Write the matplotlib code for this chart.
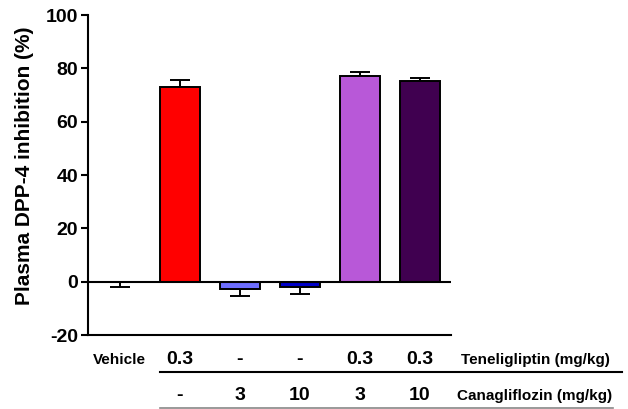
import matplotlib
matplotlib.use("Agg")
import matplotlib.pyplot as plt
from matplotlib.lines import Line2D

plt.rcParams['font.family'] = ['Liberation Sans', 'DejaVu Sans']
plt.rcParams['font.weight'] = 'bold'

groups = ["Vehicle", "Tene 0.3", "Cana 3", "Cana 10", "Tene+Cana 3", "Tene+Cana 10"]
means = [-0.2, 73.0, -2.9, -2.1, 77.3, 75.4]
sems = [1.7, 2.5, 2.6, 2.6, 1.4, 0.9]
colors = ["#FFFFFF", "#FF0000", "#6E6EFF", "#0000C8", "#B858D8", "#400050"]
tene_labels = ["Vehicle", "0.3", "-", "-", "0.3", "0.3"]
cana_labels = ["", "-", "3", "10", "3", "10"]
row_titles = ["Teneligliptin (mg/kg)", "Canagliflozin (mg/kg)"]
yticks = [-20, 0, 20, 40, 60, 80, 100]

fig = plt.figure(figsize=(6.28, 4.09), dpi=100)
ax = fig.add_axes([88/628, 1-335/409, (451-88)/628, (335-15)/409])

x = list(range(len(groups)))
for i, (m, s, c) in enumerate(zip(means, sems, colors)):
    if i > 0:
        ax.bar(i, m, width=0.667, color=c, edgecolor="black", linewidth=1.4, zorder=2)
    lo = s if m < 0 else 0
    hi = s if m >= 0 else 0
    ax.errorbar(i, m, yerr=[[lo], [hi]], fmt="none", ecolor="black",
                elinewidth=1.4, capsize=7.5, capthick=1.4, zorder=1)

ax.axhline(0, color="black", linewidth=1.5, zorder=3)
ax.set_xlim(-0.53, 5.52)
ax.set_ylim(-20, 100)
ax.set_yticks(yticks)
ax.set_yticklabels([str(t) for t in yticks], fontsize=14, fontweight="bold")
ax.set_xticks([])
for sp in ["top", "right"]:
    ax.spines[sp].set_visible(False)
ax.spines["left"].set_linewidth(1.5)
ax.spines["bottom"].set_linewidth(1.5)
ax.tick_params(axis="y", direction="out", length=5, width=1.5, pad=2)
ax.set_ylabel("Plasma DPP-4 inhibition (%)", fontsize=15, fontweight="bold")
ax.yaxis.set_label_coords(-0.15, 0.53)

for i in x:
    xd = ax.transData.transform((i, 0))[0]
    xf = fig.transFigure.inverted().transform((xd, 0))[0]
    fig.text(xf, 1-360/409, tene_labels[i], ha="center", va="center",
             fontsize=14 if i > 0 else 11, fontweight="bold")
    fig.text(xf, 1-396/409, cana_labels[i], ha="center", va="center",
             fontsize=14, fontweight="bold")

fig.text(461/628, 1-360/409, row_titles[0], ha="left", va="center", fontsize=11, fontweight="bold")
fig.text(457/628, 1-396/409, row_titles[1], ha="left", va="center", fontsize=11, fontweight="bold")

fig.add_artist(Line2D([160/628, 622/628], [1-372/409, 1-372/409], color="black", linewidth=1.5))
fig.add_artist(Line2D([160/628, 613/628], [1-408/409, 1-408/409], color="#888888", linewidth=1.2))

fig.savefig("out.png", dpi=100)
